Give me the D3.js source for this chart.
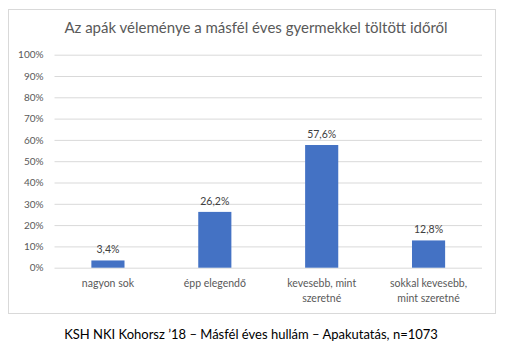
<!DOCTYPE html>
<html>
<head>
<meta charset="utf-8">
<script src="https://cdn.jsdelivr.net/npm/d3@7"></script>
<style>
  body { margin: 0; background: #fff; }
  svg text { font-family: Lato, "Open Sans", sans-serif; }
</style>
</head>
<body>
<div id="chart"></div>
<script>
// Apák véleménye
const categories = [
  ["nagyon sok"],
  ["épp elegendő"],
  ["kevesebb, mint", "szeretné"],
  ["sokkal kevesebb,", "mint szeretné"]
];
const values = [3.4, 26.2, 57.6, 12.8];
const yTicks = [0, 10, 20, 30, 40, 50, 60, 70, 80, 90, 100];
const title = "Az apák véleménye a másfél éves gyermekkel töltött időről";
const caption = "KSH NKI Kohorsz \u201918 \u2013 Másfél éves hullám \u2013 Apakutatás, n=1073";

const W = 506, H = 352;
const plot = { left: 54.5, right: 482, top: 54.7, bottom: 267.7 };

const svg = d3.select("#chart").append("svg")
  .attr("width", W).attr("height", H);

// chart frame
svg.append("rect")
  .attr("x", 8.5).attr("y", 9.5)
  .attr("width", 487).attr("height", 304)
  .attr("fill", "#fff").attr("stroke", "#d9d9d9");

svg.append("text")
  .attr("x", 256).attr("y", 33)
  .attr("text-anchor", "middle")
  .attr("font-size", "15px")
  .attr("fill", "#595959")
  .text(title);

const x = d3.scaleBand()
  .domain(d3.range(categories.length))
  .range([plot.left, plot.right])
  .paddingInner(0.69).paddingOuter(0.345);

const y = d3.scaleLinear().domain([0, 100]).range([plot.bottom, plot.top]);

// grid + y labels
const yAxis = svg.append("g")
  .attr("transform", `translate(${plot.left},0)`)
  .call(d3.axisLeft(y).tickValues(yTicks).tickSize(-(plot.right - plot.left))
    .tickFormat(d => d + "%").tickPadding(11));
yAxis.select(".domain").remove();
yAxis.selectAll(".tick line").attr("stroke", "#d9d9d9");
yAxis.selectAll(".tick text")
  .attr("fill", "#595959").attr("font-size", "10px")
  .style("font-family", "Lato, 'Open Sans', sans-serif");

// bars
svg.append("g").selectAll("rect")
  .data(values)
  .join("rect")
  .attr("x", (d, i) => x(i))
  .attr("width", x.bandwidth())
  .attr("y", d => y(d))
  .attr("height", d => y(0) - y(d))
  .attr("fill", "#4472c4");

// value labels
svg.append("g").selectAll("text")
  .data(values)
  .join("text")
  .attr("x", (d, i) => x(i) + x.bandwidth() / 2)
  .attr("y", d => y(d) - 7)
  .attr("text-anchor", "middle")
  .attr("font-size", "10.5px")
  .attr("fill", "#404040")
  .text(d => d3.format(".1f")(d).replace(".", ",") + "%");

// category labels
const catG = svg.append("g").selectAll("text")
  .data(categories)
  .join("text")
  .attr("x", (d, i) => x(i) + x.bandwidth() / 2)
  .attr("y", 287)
  .attr("text-anchor", "middle")
  .attr("font-size", "10.5px")
  .attr("fill", "#595959");
catG.selectAll("tspan")
  .data(d => d)
  .join("tspan")
  .attr("x", function () { return this.parentNode.getAttribute("x"); })
  .attr("dy", (d, i) => i === 0 ? 0 : 14.5)
  .text(d => d);

svg.append("text")
  .attr("x", 251).attr("y", 339)
  .attr("text-anchor", "middle")
  .attr("font-size", "13px")
  .attr("fill", "#000")
  .text(caption);
</script>
</body>
</html>
